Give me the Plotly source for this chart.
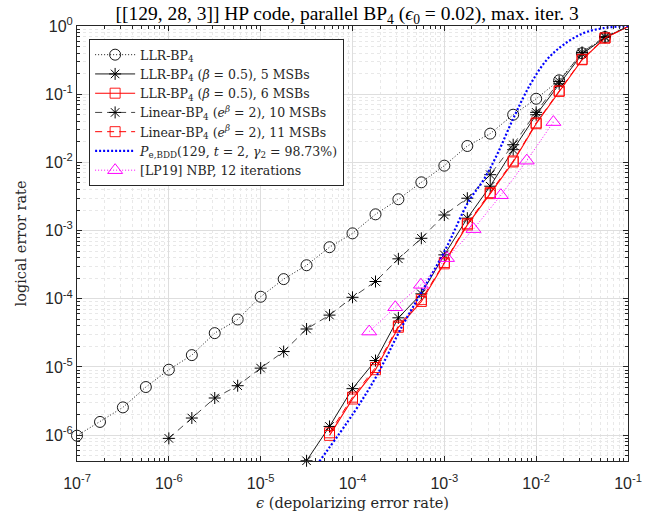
import plotly.graph_objects as go

# ---------------- data ----------------
# LLR-BP4 (no MSB)
eps_llr = [1.00e-7, 1.78e-7, 3.16e-7, 5.62e-7, 1.00e-6, 1.78e-6, 3.16e-6, 5.62e-6,
           1.00e-5, 1.78e-5, 3.16e-5, 5.62e-5, 1.00e-4, 1.78e-4, 3.16e-4, 5.62e-4,
           1.00e-3, 1.78e-3, 3.16e-3, 5.62e-3, 1.00e-2, 1.78e-2, 3.16e-2, 5.62e-2, 1.00e-1]
ler_llr = [9.8e-7, 1.56e-6, 2.55e-6, 5.07e-6, 9.1e-6, 1.49e-5, 3.13e-5, 4.96e-5,
           1.07e-4, 1.94e-4, 3.1e-4, 5.7e-4, 9.1e-4, 1.73e-3, 2.88e-3, 5.1e-3,
           8.95e-3, 1.74e-2, 2.64e-2, 5.0e-2, 8.58e-2, 0.16, 0.40, 0.69, 0.98]

# LLR-BP4 (beta = 0.5), 5 MSBs
eps_llr5 = [3.16e-5, 5.62e-5, 1.00e-4, 1.78e-4, 3.16e-4, 5.62e-4, 1.00e-3, 1.78e-3,
            3.16e-3, 5.62e-3, 1.00e-2, 1.78e-2, 3.16e-2, 5.62e-2, 1.00e-1]
ler_llr5 = [4.2e-7, 1.34e-6, 4.8e-6, 1.24e-5, 5.25e-5, 1.18e-4, 4.4e-4, 1.52e-3,
            4.47e-3, 1.535e-2, 5.0e-2, 0.142, 0.387, 0.68, 0.98]

# LLR-BP4 (beta = 0.5), 6 MSBs
eps_llr6 = [5.62e-5, 1.00e-4, 1.78e-4, 3.16e-4, 5.62e-4, 1.00e-3, 1.78e-3,
            3.16e-3, 5.62e-3, 1.00e-2, 1.78e-2, 3.16e-2, 5.62e-2, 1.00e-1]
ler_llr6 = [9.9e-7, 3.38e-6, 9.1e-6, 3.81e-5, 9.1e-5, 3.25e-4, 1.21e-3,
            3.48e-3, 1.014e-2, 3.69e-2, 0.110, 0.32, 0.665, 0.98]

# Linear-BP4 (e^beta = 2), 10 MSBs
eps_lin10 = [1.00e-6, 1.78e-6, 3.16e-6, 5.62e-6, 1.00e-5, 1.78e-5, 3.16e-5, 5.62e-5,
             1.00e-4, 1.78e-4, 3.16e-4, 5.62e-4, 1.00e-3, 1.78e-3, 3.16e-3, 5.62e-3,
             1.00e-2, 1.78e-2, 3.16e-2, 5.62e-2, 1.00e-1]
ler_lin10 = [8.95e-7, 1.78e-6, 3.5e-6, 5.3e-6, 9.6e-6, 1.68e-5, 3.6e-5, 5.75e-5,
             1.05e-4, 1.79e-4, 3.85e-4, 7.7e-4, 1.69e-3, 2.98e-3, 6.6e-3, 1.817e-2,
             5.42e-2, 0.154, 0.41, 0.70, 0.98]

# Linear-BP4 (e^beta = 2), 11 MSBs
eps_lin11 = [5.62e-5, 1.00e-4, 1.78e-4, 3.16e-4, 5.62e-4, 1.00e-3, 1.78e-3,
             3.16e-3, 5.62e-3, 1.00e-2, 1.78e-2, 3.16e-2, 5.62e-2, 1.00e-1]
ler_lin11 = [1.08e-6, 3.6e-6, 9.8e-6, 4.0e-5, 9.7e-5, 3.4e-4, 1.26e-3,
             3.6e-3, 1.05e-2, 3.8e-2, 0.112, 0.325, 0.67, 0.98]

# P_e,BDD curve
eps_bdd = [4.36e-5, 1.028e-4, 1.815e-4, 3.46e-4, 5.70e-4, 1.023e-3, 1.832e-3,
           2.67e-3, 3.74e-3, 5.66e-3, 8.59e-3, 1.306e-2, 1.98e-2, 3.27e-2, 5.4e-2, 1.0e-1]
ler_bdd = [4.12e-7, 2.11e-6, 7.24e-6, 3.92e-5, 1.276e-4, 5.2e-4, 2.65e-3,
           5.5e-3, 1.29e-2, 4.47e-2, 0.1374, 0.32, 0.531, 0.787, 0.931, 1.0]

# [LP19] NBP, 12 iterations
eps_nbp = [1.52e-4, 2.92e-4, 5.56e-4, 1.07e-3, 2.08e-3, 4.13e-3, 7.9e-3, 1.54e-2]
ler_nbp = [3.3e-5, 7.5e-5, 1.6e-4, 3.94e-4, 1.05e-3, 3.3e-3, 1.06e-2, 3.9e-2]

# tick labels
x_tickvals = [1e-7, 1e-6, 1e-5, 1e-4, 1e-3, 1e-2, 1e-1]
x_ticktext = ["10<sup>-7</sup>", "10<sup>-6</sup>", "10<sup>-5</sup>", "10<sup>-4</sup>",
              "10<sup>-3</sup>", "10<sup>-2</sup>", "10<sup>-1</sup>"]
y_tickvals = [1e-6, 1e-5, 1e-4, 1e-3, 1e-2, 1e-1, 1e0]
y_ticktext = ["10<sup>-6</sup>", "10<sup>-5</sup>", "10<sup>-4</sup>", "10<sup>-3</sup>",
              "10<sup>-2</sup>", "10<sup>-1</sup>", "10<sup>0</sup>"]

names = [
    "LLR-BP<sub>4</sub>",
    "LLR-BP<sub>4</sub> (<i>β</i> = 0.5), 5 MSBs",
    "LLR-BP<sub>4</sub> (<i>β</i> = 0.5), 6 MSBs",
    "Linear-BP<sub>4</sub> (<i>e</i><sup><i>β</i></sup> = 2), 10 MSBs",
    "Linear-BP<sub>4</sub> (<i>e</i><sup><i>β</i></sup> = 2), 11 MSBs",
    "<i>P</i><sub>e,BDD</sub>(129, <i>t</i> = 2, <i>γ</i><sub>2</sub> = 98.73%)",
    "[LP19] NBP, 12 iterations",
]

SERIF = "Liberation Serif, Times New Roman, serif"
LEGSERIF = "DejaVu Serif, serif"
SANS = "Liberation Sans, Arial, sans-serif"

fig = go.Figure()

fig.add_trace(go.Scatter(
    x=eps_llr, y=ler_llr, name=names[0], mode="lines+markers", cliponaxis=False,
    line=dict(color="black", width=0.9, dash="1px,2px"),
    marker=dict(symbol="circle-open", size=11, color="black", line=dict(width=0.9))))
fig.add_trace(go.Scatter(
    x=eps_llr5, y=ler_llr5, name=names[1], mode="lines+markers", cliponaxis=False,
    line=dict(color="black", width=0.9),
    marker=dict(symbol="asterisk-open", size=10, color="black", line=dict(width=1, color="black"))))
fig.add_trace(go.Scatter(
    x=eps_llr6, y=ler_llr6, name=names[2], mode="lines+markers", cliponaxis=False,
    line=dict(color="#ff0000", width=1.1),
    marker=dict(symbol="square-open", size=10, color="#ff0000", line=dict(width=0.9))))
fig.add_trace(go.Scatter(
    x=eps_lin10, y=ler_lin10, name=names[3], mode="lines+markers", cliponaxis=False,
    line=dict(color="#333333", width=0.9, dash="7px,5px"),
    marker=dict(symbol="asterisk-open", size=10, color="black", line=dict(width=1, color="black"))))
fig.add_trace(go.Scatter(
    x=eps_lin11, y=ler_lin11, name=names[4], mode="lines+markers", cliponaxis=False,
    line=dict(color="#ff0000", width=1.0, dash="7px,5px"),
    marker=dict(symbol="square-open", size=10, color="#ff0000", line=dict(width=0.9))))
fig.add_trace(go.Scatter(
    x=eps_bdd, y=ler_bdd, name=names[5], mode="lines", line_shape="spline",
    line=dict(color="#0000ff", width=2.2, dash="2px,2px")))
fig.add_trace(go.Scatter(
    x=eps_nbp, y=ler_nbp, name=names[6], mode="lines+markers", cliponaxis=False,
    line=dict(color="#ff00ff", width=1.0, dash="1px,2px"),
    marker=dict(symbol="triangle-up-open", size=13, color="#ff00ff", line=dict(width=1))))

axis_common = dict(
    type="log", showline=True, linecolor="#262626", linewidth=1, mirror="ticks",
    ticks="inside", ticklen=5, tickcolor="#262626", tickmode="array",
    showgrid=True, gridcolor="#dedede", gridwidth=1, automargin=False,
    zeroline=False, tickfont=dict(family=SANS, size=16, color="#262626"),
    minor=dict(dtick="D1", showgrid=True, gridcolor="#e8e8e8", griddash="dot",
               ticks="inside", ticklen=3, tickcolor="#262626"),
)

fig.update_xaxes(**axis_common, range=[-7, -1], tickvals=x_tickvals, ticktext=x_ticktext,
                 ticklabelstandoff=8,
                 title=dict(text="<i>ϵ</i> (depolarizing error rate)",
                            font=dict(family=LEGSERIF, size=14.5, color="#262626"), standoff=6))
fig.update_yaxes(**axis_common, range=[-6.38, 0.0005], tickvals=y_tickvals, ticktext=y_ticktext,
                 title=dict(text="logical error rate",
                            font=dict(family=LEGSERIF, size=14.5, color="#262626"), standoff=14))

fig.update_layout(
    width=665, height=521,
    margin=dict(l=77, r=37, t=26, b=60),
    plot_bgcolor="white", paper_bgcolor="white",
    title=dict(text="[[129, 28, 3]] HP code, parallel BP<sub>4</sub> (<i>ϵ</i><sub>0</sub> = 0.02), max. iter. 3",
               x=0.522, xanchor="center", y=0.975, yanchor="middle",
               font=dict(family=SERIF, size=19.5, color="black")),
    legend=dict(x=0.022, y=0.97, xanchor="left", yanchor="top",
                bgcolor="white", bordercolor="#262626", borderwidth=1,
                font=dict(family=LEGSERIF, size=12.5, color="#262626"),
                tracegroupgap=0, itemwidth=40),
    showlegend=True,
)

fig.write_html("out.html", post_script="document.body.style.margin='0';",
               config={"displayModeBar": False})
